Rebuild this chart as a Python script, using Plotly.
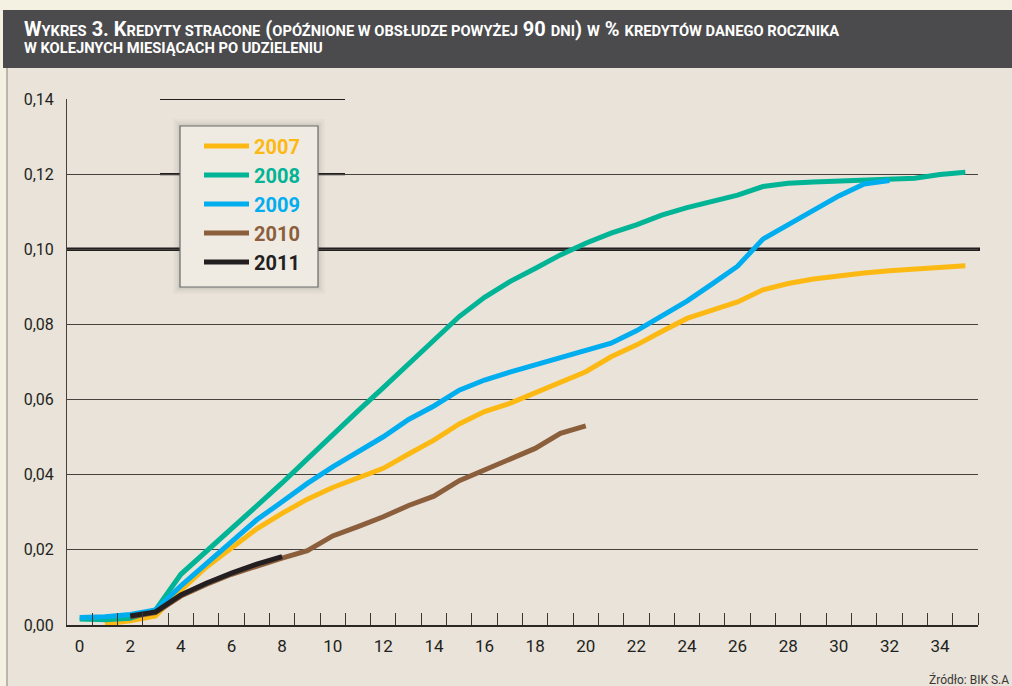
import plotly.graph_objects as go

# ---------------- data ----------------
months_2007 = list(range(1, 36))
v2007 = [0.0003, 0.0011, 0.0024, 0.0093, 0.0154, 0.0206, 0.0256, 0.0297, 0.0335, 0.0366,
         0.0392, 0.0417, 0.0455, 0.0492, 0.0535, 0.0568, 0.0590, 0.0618, 0.0646, 0.0674,
         0.0714, 0.0745, 0.0781, 0.0816, 0.0838, 0.0860, 0.0892, 0.0909, 0.0921, 0.0930,
         0.0937, 0.0943, 0.0948, 0.0952, 0.0956]

months_2008 = list(range(0, 36))
v2008 = [0.0016, 0.0014, 0.0018, 0.0040, 0.0135, 0.0195, 0.0255, 0.0316, 0.0378, 0.0442,
         0.0508, 0.0570, 0.0632, 0.0696, 0.0758, 0.0821, 0.0872, 0.0914, 0.0949, 0.0985,
         0.1016, 0.1043, 0.1065, 0.1091, 0.1111, 0.1128, 0.1144, 0.1167, 0.1176, 0.1179,
         0.1182, 0.1184, 0.1187, 0.1189, 0.1199, 0.1205]

months_2009 = list(range(0, 33))
v2009 = [0.0020, 0.0022, 0.0028, 0.0040, 0.0104, 0.0164, 0.0224, 0.0280, 0.0328, 0.0377,
         0.0421, 0.0462, 0.0501, 0.0547, 0.0583, 0.0625, 0.0652, 0.0673, 0.0692, 0.0712,
         0.0730, 0.0750, 0.0783, 0.0822, 0.0862, 0.0908, 0.0955, 0.1027, 0.1065, 0.1105,
         0.1142, 0.1174, 0.1183]

months_2010 = list(range(2, 21))
v2010 = [0.0022, 0.0033, 0.0077, 0.0108, 0.0135, 0.0158, 0.0178, 0.0198, 0.0237, 0.0262,
         0.0288, 0.0318, 0.0343, 0.0384, 0.0413, 0.0441, 0.0470, 0.0510, 0.0530]

months_2011 = list(range(2, 9))
v2011 = [0.0024, 0.0035, 0.0080, 0.0111, 0.0138, 0.0162, 0.0182]

series_names = ["2007", "2008", "2009", "2010", "2011"]
series_colors = ["#fdb913", "#00b495", "#00adef", "#8b5e3c", "#231f20"]

x_ticks = list(range(0, 35, 2))
y_ticks = [0.00, 0.02, 0.04, 0.06, 0.08, 0.10, 0.12, 0.14]

SC = "<span style='font-size:14.7px'>{}</span>"
title_line1 = ("W" + SC.format("YKRES") + " 3. K" + SC.format("REDYTY STRACONE") + " ("
               + SC.format("OPÓŹNIONE W OBSŁUDZE POWYŻEJ") + " 90 " + SC.format("DNI") + ") "
               + SC.format("W") + " % " + SC.format("KREDYTÓW DANEGO ROCZNIKA"))
title_line2 = "W KOLEJNYCH MIESIĄCACH PO UDZIELENIU"
source_text = "Źródło: BIK S.A"

# ---------------- geometry helpers ----------------
W, H = 1012, 686
L, R, T, B = 67, 34, 99, 61
PW, PH = W - L - R, H - T - B


def px(xp):
    return (xp - L) / PW


def py(yp):
    return (H - B - yp) / PH


FONT = "Roboto, Liberation Sans, sans-serif"
BG = "#e9e3da"

fig = go.Figure()
data = [(months_2007, v2007), (months_2008, v2008), (months_2009, v2009),
        (months_2010, v2010), (months_2011, v2011)]
for (xs, ys), name, col in zip(data, series_names, series_colors):
    fig.add_trace(go.Scatter(
        x=xs, y=ys, mode="lines", name=f"<span style='color:{col}'>{name}</span>",
        legendgroup=name,
        line=dict(color=col, width=5),
    ))

shapes = []
# cream page margins
shapes.append(dict(type="rect", xref="paper", yref="paper", x0=px(0), x1=px(W), y0=py(10), y1=py(0),
                   fillcolor="#f4f0e2", line=dict(width=0), layer="below"))
shapes.append(dict(type="rect", xref="paper", yref="paper", x0=px(0), x1=px(6.5), y0=py(H), y1=py(10),
                   fillcolor="#f4f0e2", line=dict(width=0), layer="below"))
shapes.append(dict(type="line", xref="paper", yref="paper", x0=px(7), x1=px(7), y0=py(H), y1=py(68),
                   line=dict(color="#8c8680", width=1), layer="below"))
# title bar
shapes.append(dict(type="rect", xref="paper", yref="paper", x0=px(3), x1=px(W + 2), y0=py(68), y1=py(10),
                   fillcolor="#4b4b4d", line=dict(width=0), layer="below"))
# thick reference line at 0.10
shapes.append(dict(type="line", xref="paper", yref="y", x0=0, x1=px(980), y0=0.10, y1=0.10,
                   line=dict(color="#231f20", width=3.5), layer="below"))
# thicker printing segments at 0.14 and 0.12
for yv in (0.14, 0.12):
    shapes.append(dict(type="line", xref="paper", yref="y", x0=px(160), x1=px(345), y0=yv, y1=yv,
                       line=dict(color="#231f20", width=2.2), layer="below"))
# legend box with soft shadow
lx0, lx1, ly0, ly1 = 180, 318, 126, 287
for g, a in ((7, 0.025), (5, 0.03), (3, 0.04), (1.5, 0.05)):
    shapes.append(dict(type="rect", xref="paper", yref="paper",
                       x0=px(lx0 - g), x1=px(lx1 + g), y0=py(ly1 + g), y1=py(ly0 - g),
                       fillcolor=f"rgba(60,50,40,{a})", line=dict(width=0), layer="above"))
shapes.append(dict(type="rect", xref="paper", yref="paper", x0=px(lx0), x1=px(lx1), y0=py(ly1), y1=py(ly0),
                   fillcolor="#efebe3", line=dict(color="#6a6a6a", width=1.2), layer="above"))

annotations = [
    dict(text=title_line1, xref="paper", yref="paper", x=px(22), y=py(29), xanchor="left", yanchor="middle",
         showarrow=False, font=dict(family=FONT, size=20, color="white", weight="bold")),
    dict(text=title_line2, xref="paper", yref="paper", x=px(22), y=py(48), xanchor="left", yanchor="middle",
         showarrow=False, font=dict(family=FONT, size=14.7, color="white", weight="bold")),
    dict(text=source_text, xref="paper", yref="paper", x=px(1011), y=py(679), xanchor="right", yanchor="middle",
         showarrow=False, font=dict(family=FONT, size=12, color="#3a3633")),
]

fig.update_layout(
    width=W, height=H,
    margin=dict(l=L, r=R, t=T, b=B, pad=0),
    paper_bgcolor=BG, plot_bgcolor=BG,
    separators=", ",
    font=dict(family=FONT, color="#231f20"),
    showlegend=True,
    legend=dict(x=px(199), y=py(126.5), xanchor="left", yanchor="top",
                bgcolor="rgba(0,0,0,0)", borderwidth=0,
                font=dict(family=FONT, size=20, weight="bold"),
                itemwidth=45, tracegroupgap=5.3, traceorder="normal"),
    shapes=shapes,
    annotations=annotations,
    xaxis=dict(range=[-0.5, 35.5], tickmode="array", tickvals=x_ticks, ticks="",
               showgrid=False, zeroline=False, showline=True, linecolor="#2b2826", linewidth=1.5,
               tickfont=dict(family=FONT, size=17, color="#231f20"), ticklabelstandoff=5,
               minor=dict(tickmode="array", tickvals=[m + 0.5 for m in months_2008],
                          ticks="inside", ticklen=12, tickcolor="#3a3633", tickwidth=1, showgrid=False)),
    yaxis=dict(range=[0, 0.14], tickmode="array", tickvals=y_ticks, tickformat=".2f", ticks="",
               showgrid=True, gridcolor="#45413d", gridwidth=1, zeroline=False,
               showline=True, linecolor="#45413d", linewidth=1,
               tickfont=dict(family=FONT, size=16, color="#231f20"), ticklabelstandoff=9),
)

fig.write_html("out.html")
